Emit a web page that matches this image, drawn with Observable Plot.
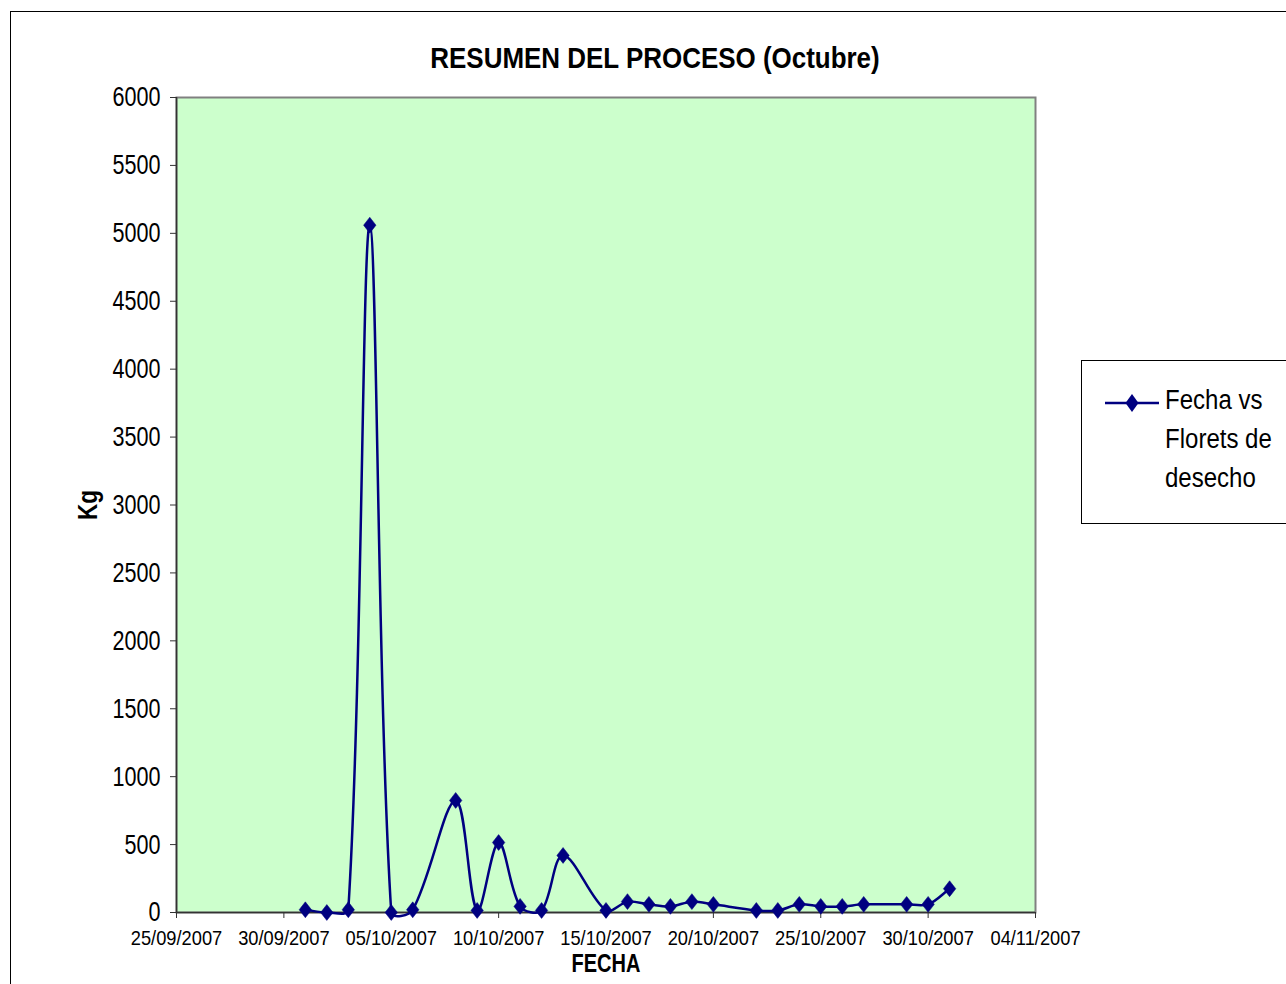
<!DOCTYPE html>
<html>
<head>
<meta charset="utf-8">
<script src="https://cdn.jsdelivr.net/npm/d3@7"></script>
<script src="https://cdn.jsdelivr.net/npm/@observablehq/plot@0.6"></script>
<style>
  html, body { margin: 0; padding: 0; background: #fff; }
  #wrap { position: relative; width: 1286px; height: 984px; overflow: hidden; font-family: "Liberation Sans", Arial, sans-serif; }
  #outer { position: absolute; left: 10px; top: 11px; width: 1300px; height: 1000px; border: 1px solid #000; box-sizing: border-box; }
  #title { position: absolute; left: 0; width: 1310px; top: 41px; text-align: center; font-weight: bold; font-size: 30px; color: #000; transform: scaleX(0.865); transform-origin: 655px 0; }
  #ylab { position: absolute; left: 88px; top: 505px; font-weight: bold; font-size: 27px; color: #000; white-space: nowrap; transform: translate(-50%, -50%) rotate(-90deg) scaleX(0.83); }
  #legend { position: absolute; left: 1081px; top: 360px; width: 220px; height: 164px; border: 1px solid #000; box-sizing: border-box; background: #fff; }
  #legend svg { position: absolute; left: 22px; top: 30px; }
  #legend .lt { position: absolute; left: 83px; top: 20px; font-size: 27px; line-height: 39px; color: #000; transform: scaleX(0.89); transform-origin: 0 0; white-space: nowrap; }
  #chart { position: absolute; left: 0; top: 0; }
</style>
</head>
<body>
<div id="wrap">
  <div id="outer"></div>
  <div id="chart"></div>
  <div id="title"></div>
  <div id="ylab"></div>
  <div id="legend"></div>
</div>
<script>
const titulo = "RESUMEN DEL PROCESO (Octubre)";
const serieNombre = ["Fecha vs", "Florets de", "desecho"];
const ejeX = "FECHA";
const ejeY = "Kg";

const fechas = [
  "2007-10-01", "2007-10-02", "2007-10-03", "2007-10-04", "2007-10-05", "2007-10-06",
  "2007-10-08", "2007-10-09", "2007-10-10", "2007-10-11", "2007-10-12", "2007-10-13",
  "2007-10-15", "2007-10-16", "2007-10-17", "2007-10-18", "2007-10-19", "2007-10-20",
  "2007-10-22", "2007-10-23", "2007-10-24", "2007-10-25", "2007-10-26", "2007-10-27",
  "2007-10-29", "2007-10-30", "2007-10-31"
];
const kg = [
  20, 0, 20, 5060, 0, 20,
  825, 15, 515, 45, 15, 420,
  15, 80, 60, 45, 80, 60,
  15, 15, 60, 45, 45, 60,
  60, 60, 175
];
const xTicks = [
  "2007-09-25", "2007-09-30", "2007-10-05", "2007-10-10", "2007-10-15",
  "2007-10-20", "2007-10-25", "2007-10-30", "2007-11-04"
];
const yTicks = [0, 500, 1000, 1500, 2000, 2500, 3000, 3500, 4000, 4500, 5000, 5500, 6000];
const xDomain = ["2007-09-25", "2007-11-04"];
const yDomain = [0, 6000];

const navy = "#000080";
const utc = s => new Date(s + "T00:00:00Z");
const data = fechas.map((f, i) => ({fecha: utc(f), kg: kg[i]}));
const fmt = d3.utcFormat("%d/%m/%Y");

// Excel-like smoothed line: cubic Bezier, tangent split by chord lengths
function ExcelCurve(context) { this._context = context; }
ExcelCurve.prototype = {
  areaStart() { this._line = 0; },
  areaEnd() { this._line = NaN; },
  lineStart() { this._pts = []; },
  point(x, y) { this._pts.push([+x, +y]); },
  lineEnd() {
    const p = this._pts, n = p.length, c = this._context, k = 1 / 3;
    if (!n) return;
    c.moveTo(p[0][0], p[0][1]);
    if (n === 1) return;
    const dist = (a, b) => Math.hypot(b[0] - a[0], b[1] - a[1]);
    const ctrl = i => {
      if (i === 0) return {out: [p[0][0] + (p[1][0] - p[0][0]) * k, p[0][1] + (p[1][1] - p[0][1]) * k]};
      if (i === n - 1) return {inn: [p[i][0] - (p[i][0] - p[i - 1][0]) * k, p[i][1] - (p[i][1] - p[i - 1][1]) * k]};
      const d1 = dist(p[i - 1], p[i]), d2 = dist(p[i], p[i + 1]), s = d1 + d2 || 1;
      const tx = p[i + 1][0] - p[i - 1][0], ty = p[i + 1][1] - p[i - 1][1];
      return {
        inn: [p[i][0] - tx * (d1 / s) * k, p[i][1] - ty * (d1 / s) * k],
        out: [p[i][0] + tx * (d2 / s) * k, p[i][1] + ty * (d2 / s) * k]
      };
    };
    for (let i = 0; i < n - 1; ++i) {
      const a = ctrl(i).out, b = ctrl(i + 1).inn;
      c.bezierCurveTo(a[0], a[1], b[0], b[1], p[i + 1][0], p[i + 1][1]);
    }
  }
};
const curveExcel = context => new ExcelCurve(context);

// Excel-style diamond (slightly taller than wide)
const excelDiamond = {
  draw(ctx, size) {
    const h = Math.sqrt(size) * 0.66, w = h * 0.78;
    ctx.moveTo(0, -h); ctx.lineTo(w, 0); ctx.lineTo(0, h); ctx.lineTo(-w, 0); ctx.closePath();
  }
};

document.getElementById("title").textContent = titulo;
document.getElementById("ylab").textContent = ejeY;

const plot = Plot.plot({
  width: 1286,
  height: 984,
  marginLeft: 176,
  marginRight: 251,
  marginTop: 97,
  marginBottom: 72,
  style: {fontFamily: '"Liberation Sans", Arial, sans-serif', background: "transparent", overflow: "visible"},
  x: {type: "utc", domain: xDomain.map(utc), label: null},
  y: {domain: yDomain, label: null},
  marks: [
    Plot.frame({fill: "#CCFFCC", stroke: "#808080", strokeWidth: 2}),
    Plot.ruleX([utc(xDomain[0])], {stroke: "#333", strokeWidth: 1.5}),
    Plot.ruleY([0], {stroke: "#333", strokeWidth: 1.5}),
    Plot.axisY({ticks: yTicks, tickFormat: d => String(d), tickSize: 6, tickPadding: 10, fontSize: 28, stroke: "#333", color: "#000", label: null}),
    Plot.axisX({ticks: xTicks.map(utc), tickFormat: fmt, tickSize: 6, tickPadding: 12, fontSize: 21, stroke: "#333", color: "#000", label: null}),
    Plot.line(data, {x: "fecha", y: "kg", stroke: navy, strokeWidth: 2.5, curve: curveExcel}),
    Plot.dot(data, {x: "fecha", y: "kg", symbol: excelDiamond, r: 6.8, fill: navy, stroke: navy, strokeWidth: 0.5}),
    Plot.text([ejeX], {frameAnchor: "bottom", dy: 59, text: d => d, fontSize: 25, fontWeight: "bold", fill: "#000"})
  ]
});
document.getElementById("chart").appendChild(plot);

// Emulate the narrow typeface of the original
function squeezeEl(el, factor) {
  const L = el.getComputedTextLength();
  el.setAttribute("textLength", (L * factor).toFixed(2));
  el.setAttribute("lengthAdjust", "spacingAndGlyphs");
}
function squeeze(selector, factor) {
  d3.select(plot).selectAll(selector).each(function () { squeezeEl(this, factor); });
}
squeeze('g[aria-label="y-axis tick label"] text', 0.77);
squeeze('g[aria-label="x-axis tick label"] text', 0.87);
d3.select(plot).selectAll("text").filter(function () { return this.textContent === ejeX; }).each(function () { squeezeEl(this, 0.8); });

// Legend
const leg = document.getElementById("legend");
const ls = d3.create("svg").attr("width", 56).attr("height", 24);
ls.append("line").attr("x1", 1).attr("x2", 55).attr("y1", 12).attr("y2", 12).attr("stroke", navy).attr("stroke-width", 2.5);
ls.append("path").attr("d", "M28,3L34.5,12L28,21L21.5,12Z").attr("fill", navy);
leg.appendChild(ls.node());
const lt = document.createElement("div");
lt.className = "lt";
lt.innerHTML = serieNombre.join("<br>");
leg.appendChild(lt);
</script>
</body>
</html>
